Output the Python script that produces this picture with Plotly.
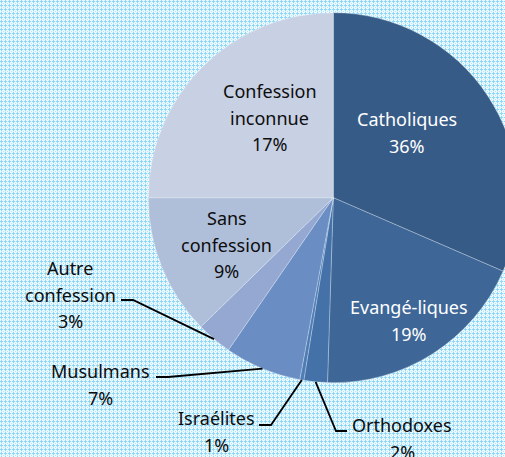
import math
import base64
import plotly.graph_objects as go

# ---- data ----
categories = ["Catholiques", "Evangé-liques", "Orthodoxes", "Israélites",
              "Musulmans", "Autre confession", "Sans confession", "Confession inconnue"]
# share of the circle each slice occupies (as drawn)
slice_share = [31.5, 19.0, 2.05, 0.35, 6.7, 3.1, 12.3, 25.0]
# percentages printed on the labels
pct_labels = [36, 19, 2, 1, 7, 3, 9, 17]
# how each label's name is broken into lines
label_lines = [["Catholiques"], ["Evangé-liques"], ["Orthodoxes"], ["Israélites"],
               ["Musulmans"], ["Autre", "confession"], ["Sans", "confession"],
               ["Confession", "inconnue"]]

# ---- styling / layout ----
colors = ["#375B87", "#3E6798", "#4571A9", "#4E7CB5",
          "#6A8EC3", "#95A8D1", "#AFBFDA", "#C8D0E3"]
text_colors = ["white", "white", "#0D0D0D", "#0D0D0D",
               "#0D0D0D", "#0D0D0D", "#0D0D0D", "#0D0D0D"]
# label placement in pixels: (centre x, first-line y)
label_pos = [(407, 119), (409, 307), (402, 425), (216, 418),
             (100, 371), (70, 268), (226.5, 218), (269.5, 91)]
line_step = 26.5
# leader lines: elbow points (pixels) before the slice edge
leaders = {2: [(347, 431), (336, 431)],
           3: [(259, 425), (271, 425)],
           4: [(156, 377), (168, 377)],
           5: [(121, 300), (133, 300)]}

W, H = 520, 457
CX, CY, R = 333.3, 197.7, 185.0


def px(x):
    return x / W


def py(y):
    return 1 - y / H


# patterned background (fine cyan crosses)
svg = (f'<svg xmlns="http://www.w3.org/2000/svg" width="{W}" height="{H}" shape-rendering="crispEdges">'
       '<defs><pattern id="p" width="4" height="4" patternUnits="userSpaceOnUse">'
       '<rect width="4" height="4" fill="#EEF9FE"/>'
       '<rect x="1" y="0" width="1" height="3" fill="#8ED7F6"/>'
       '<rect x="0" y="1" width="3" height="1" fill="#8ED7F6"/>'
       '<rect x="3" y="3" width="1" height="1" fill="#B4E5F9"/>'
       '<rect x="3" y="1" width="1" height="1" fill="#D2EFFB"/>'
       '<rect x="1" y="3" width="1" height="1" fill="#D2EFFB"/>'
       '</pattern></defs>'
       f'<rect width="{W}" height="{H}" fill="url(#p)"/></svg>')
bg_src = "data:image/svg+xml;base64," + base64.b64encode(svg.encode()).decode()

fig = go.Figure(go.Pie(
    labels=categories,
    values=slice_share,
    sort=False,
    direction="clockwise",
    rotation=0,
    textinfo="none",
    hoverinfo="label",
    marker=dict(colors=colors, line=dict(color="rgba(255,255,255,0.35)", width=0.8)),
    domain=dict(x=[px(CX - R), px(CX + R)], y=[py(CY + R), py(CY - R)]),
    showlegend=False,
))

annotations = []
for i, name in enumerate(categories):
    lines = label_lines[i] + [f"{pct_labels[i]}%"]
    x0, y0 = label_pos[i]
    for k, t in enumerate(lines):
        annotations.append(dict(
            x=px(x0), y=py(y0 + k * line_step), xref="paper", yref="paper",
            text=t, showarrow=False, xanchor="center", yanchor="middle",
            font=dict(family="Noto Sans", size=18, color=text_colors[i])))

total = sum(slice_share)
shapes = []
cum = 0.0
mids = []
for v in slice_share:
    mids.append((cum + v / 2) / total * 360)
    cum += v
for i, pts in leaders.items():
    a = math.radians(mids[i])
    ex, ey = CX + R * math.sin(a), CY - R * math.cos(a)
    all_pts = pts + [(ex, ey)]
    path = "M " + " L ".join(f"{px(x):.5f},{py(y):.5f}" for x, y in all_pts)
    shapes.append(dict(type="path", path=path, xref="paper", yref="paper",
                       line=dict(color="black", width=1.8)))

fig.update_layout(
    width=W, height=H, autosize=False,
    margin=dict(l=0, r=0, t=0, b=0, pad=0),
    paper_bgcolor="white", plot_bgcolor="white",
    images=[dict(source=bg_src, xref="paper", yref="paper", x=0, y=1,
                 sizex=1, sizey=1, sizing="stretch", layer="below",
                 xanchor="left", yanchor="top")],
    annotations=annotations,
    shapes=shapes,
)

fig.write_html("out.html", config={"displayModeBar": False},
               post_script="document.body.style.margin='0';document.body.style.overflow='hidden';")
